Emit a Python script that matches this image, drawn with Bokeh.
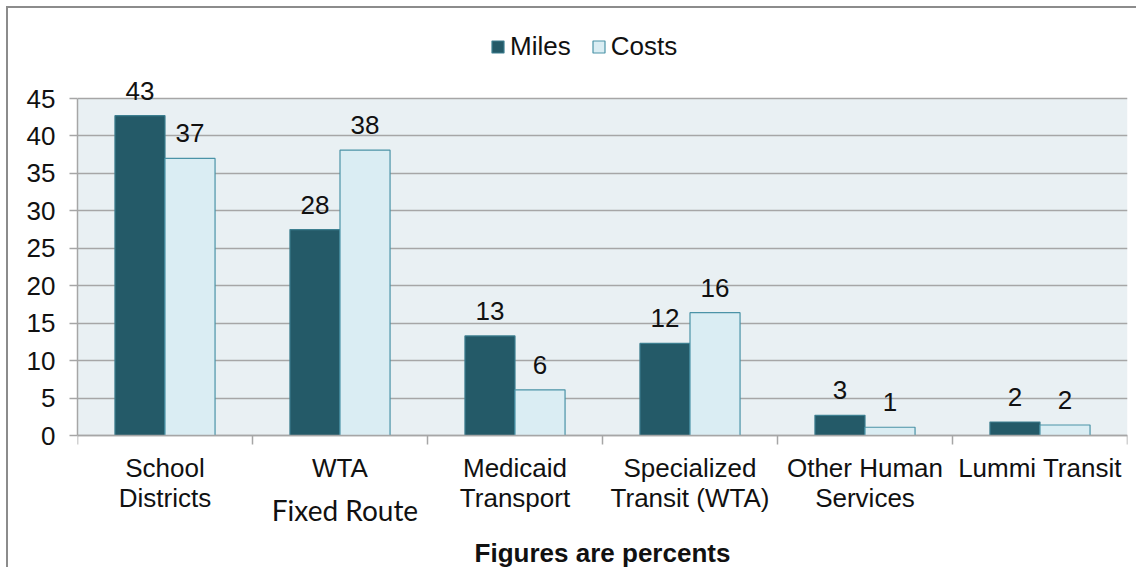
import numpy as np
from bokeh.plotting import figure
from bokeh.models import (Range1d, FixedTicker, ColumnDataSource, LabelSet, Label,
                          Legend, LegendItem, BoxAnnotation)
from bokeh.core.properties import value
from bokeh.embed import file_html
from bokeh.resources import INLINE

# ---- data ----
categories = ["School Districts", "WTA Fixed Route", "Medicaid Transport",
              "Specialized Transit (WTA)", "Other Human Services", "Lummi Transit"]
tick_labels = ["School\nDistricts", "WTA", "Medicaid\nTransport",
               "Specialized\nTransit (WTA)", "Other Human\nServices", "Lummi Transit"]
extra_label = "Fixed Route"
miles = [42.7, 27.5, 13.3, 12.3, 2.7, 1.8]
costs = [37.0, 38.1, 6.1, 16.4, 1.1, 1.4]
miles_labels = ["43", "28", "13", "12", "3", "2"]
costs_labels = ["37", "38", "6", "16", "1", "2"]
y_ticks = [0, 5, 10, 15, 20, 25, 30, 35, 40, 45]
y_max = 45
x_title = "Figures are percents"

FONT = "Liberation Sans"
TXT = "#111111"
MILES_FILL = "#245a68"
MILES_LINE = "#3d7f90"
COSTS_FILL = "#daedf3"
COSTS_LINE = "#4b93a7"
GRID = "#a6a6a6"

# ---- layout (pixels) ----
W, H = 1130, 561
LEFT, RIGHT = 69, 11
Y0_PX, YMAX_PX = 427, 90          # canvas rows of y=0 and y=45
ppu = (Y0_PX - YMAX_PX) / y_max
y_top = y_max + YMAX_PX / ppu
y_bot = -(H - Y0_PX) / ppu

n = len(categories)
centers = np.arange(n) + 0.5
bw = 0.286
x_m = centers - bw / 2
x_c = centers + bw / 2

p = figure(width=W, height=H, output_backend="svg", toolbar_location=None,
           x_range=Range1d(0, n), y_range=Range1d(y_bot, y_top),
           min_border_left=LEFT, min_border_right=RIGHT, min_border_top=0,
           min_border_bottom=0)
p.styles = {"margin-left": "6px", "margin-top": "6px",
            "border-left": "2px solid #8c8c8c", "border-top": "2px solid #8c8c8c"}
p.background_fill_color = "white"
p.border_fill_color = "white"
p.outline_line_color = None

p.add_layout(BoxAnnotation(left=0, right=n, bottom=0, top=y_max, level="image",
                           fill_color="#e9f0f3", fill_alpha=1, line_color=None))

src_m = ColumnDataSource(dict(x=x_m, top=miles, lab=miles_labels))
src_c = ColumnDataSource(dict(x=x_c, top=costs, lab=costs_labels))

r_m = p.vbar(x="x", top="top", bottom=0, width=bw, source=src_m,
             fill_color=MILES_FILL, line_color=MILES_LINE, line_width=1.2)
r_c = p.vbar(x="x", top="top", bottom=0, width=bw, source=src_c,
             fill_color=COSTS_FILL, line_color=COSTS_LINE, line_width=1.2)

for src in (src_m, src_c):
    p.add_layout(LabelSet(x="x", y="top", text="lab", source=src, y_offset=16,
                          text_align="center", text_baseline="alphabetic",
                          text_font=value(FONT), text_font_size=value("26px"),
                          text_color=TXT))

# y axis
p.yaxis.ticker = FixedTicker(ticks=y_ticks)
p.yaxis.bounds = (0, y_max)
p.yaxis.major_label_text_font = FONT
p.yaxis.major_label_text_font_size = "26px"
p.yaxis.major_label_text_color = TXT
p.yaxis.major_tick_out = 8
p.yaxis.major_tick_in = 0
p.yaxis.minor_tick_line_color = None
p.yaxis.major_tick_line_color = GRID
p.yaxis.axis_line_color = GRID
p.yaxis.major_tick_line_width = 1.5
p.yaxis.axis_line_width = 1.5
p.yaxis.major_label_standoff = 14

# x axis
p.xaxis.fixed_location = 0
p.xaxis.ticker = FixedTicker(ticks=list(centers), minor_ticks=list(range(n + 1)))
p.xaxis.major_label_overrides = {float(c): t for c, t in zip(centers, tick_labels)}
p.xaxis.major_label_text_font = FONT
p.xaxis.major_label_text_font_size = "26px"
p.xaxis.major_label_text_line_height = 1.0
p.xaxis.major_label_text_color = TXT
p.xaxis.major_tick_out = 0
p.xaxis.major_tick_in = 0
p.xaxis.minor_tick_out = 9
p.xaxis.minor_tick_in = 0
p.xaxis.minor_tick_line_color = GRID
p.xaxis.minor_tick_line_width = 1.5
p.xaxis.axis_line_color = GRID
p.xaxis.axis_line_width = 1.5
p.xaxis.major_label_standoff = 8
p.xaxis.axis_label = x_title
p.xaxis.axis_label_text_font = FONT
p.xaxis.axis_label_text_font_style = "bold"
p.xaxis.axis_label_text_font_size = "26px"
p.xaxis.axis_label_text_color = TXT
p.xaxis.axis_label_standoff = 22

p.xgrid.grid_line_color = None
p.ygrid.ticker = FixedTicker(ticks=y_ticks)
p.ygrid.grid_line_color = GRID
p.ygrid.grid_line_width = 1.5

p.add_layout(Label(x=centers[1], y=60, x_units="data", y_units="screen",
                   x_offset=5, text=extra_label, text_align="center",
                   text_baseline="middle", text_font="Lato", text_font_size="28px",
                   text_color=TXT))

legend = Legend(items=[LegendItem(label="Miles", renderers=[r_m]),
                       LegendItem(label="Costs", renderers=[r_c])],
                orientation="horizontal", location=(413, 507),
                glyph_width=15, glyph_height=15, label_standoff=5, spacing=20,
                padding=0, margin=0, border_line_color=None,
                background_fill_alpha=0, label_text_font=FONT,
                label_text_font_size="26px", label_text_color=TXT)
p.add_layout(legend, "center")

open("out.html", "w").write(file_html(p, INLINE))
